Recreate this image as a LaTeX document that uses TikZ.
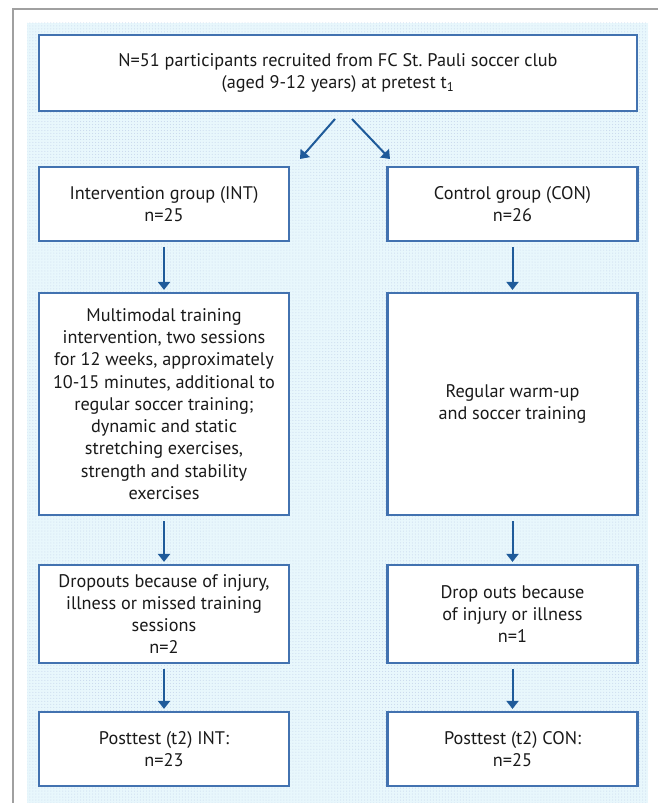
\documentclass[tikz,border=0pt]{standalone}
\usepackage{fontspec}
\setmainfont{PT Sans}
\usetikzlibrary{arrows.meta,patterns}
\definecolor{boxblue}{HTML}{4272B0}
\definecolor{arrblue}{HTML}{1F5B9A}
\definecolor{bgcyan}{HTML}{E8F7FC}
\definecolor{dotc}{HTML}{C6D6EC}
\definecolor{framegray}{HTML}{A0A0A0}
\definecolor{textc}{HTML}{1A1A1A}
\tikzset{
  box/.style={draw=boxblue, line width=2.2bp, fill=white, align=center,
    inner sep=0pt, text=textc, font=\fontsize{18.3}{22.3}\selectfont},
  narrowbox/.style={box, minimum width=250bp},
  arr/.style={draw=arrblue, line width=2bp, -{Triangle[width=12bp,length=8bp]}},
  varr/.style={arr, shorten <=5bp, shorten >=2bp}
}
\begin{document}
\begin{tikzpicture}[x=1bp,y=-1bp]
\useasboundingbox (0,0) rectangle (658,803);
\fill[bgcyan] (27,23) rectangle (648,803);
\fill[pattern=dots, pattern color=dotc] (27,23) rectangle (648,803);
\draw[framegray, line width=2bp] (13,803) -- (13,9) -- (658,9);

\node[box, minimum width=598bp, minimum height=76bp] (top) at (338,73)
  {N=51 participants recruited from FC St.\ Pauli soccer club\\(aged 9-12 years) at pretest t\textsubscript{1}};

\node[narrowbox, minimum height=74bp] (int) at (164,204) {Intervention group (INT)\\n=25};
\node[narrowbox, minimum height=74bp] (con) at (512.5,204) {Control group (CON)\\n=26};

\node[narrowbox, minimum height=222bp] (mm) at (164,404)
  {Multimodal training\\intervention, two sessions\\for 12 weeks, approximately\\10-15 minutes, additional to\\regular soccer training;\\dynamic and static\\stretching exercises,\\strength and stability\\exercises};
\node[narrowbox, minimum height=222bp] (reg) at (512.5,404) {Regular warm-up\\and soccer training};

\node[narrowbox, minimum height=98bp] (dint) at (164,614)
  {Dropouts because of injury,\\illness or missed training\\sessions\\n=2};
\node[narrowbox, minimum height=98bp] (dcon) at (512.5,614)
  {Drop outs because\\of injury or illness\\n=1};

\node[narrowbox, minimum height=74bp] (pint) at (164,749) {Posttest (t2) INT:\\n=23};
\node[narrowbox, minimum height=74bp] (pcon) at (512.5,749) {Posttest (t2) CON:\\n=25};

\coordinate (s1) at (335,119);
\coordinate (e1) at (300,159);
\coordinate (s2) at (352,119);
\coordinate (e2) at (390,159);
\draw[arr] (s1) -- (e1);
\draw[arr] (s2) -- (e2);

\draw[varr] (int) -- (mm);
\draw[varr] (con) -- (reg);
\draw[varr] (mm) -- (dint);
\draw[varr] (reg) -- (dcon);
\draw[varr] (dint) -- (pint);
\draw[varr] (dcon) -- (pcon);
\end{tikzpicture}
\end{document}
